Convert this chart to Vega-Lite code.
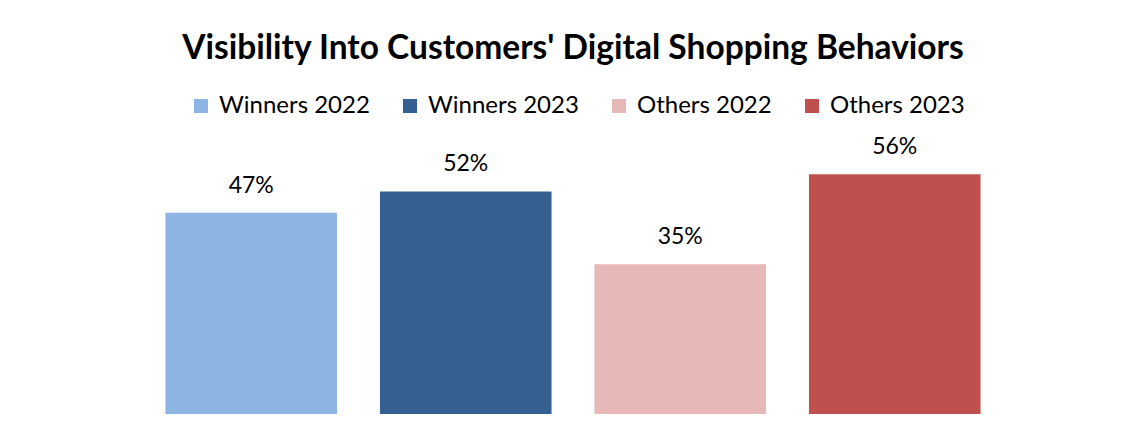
{
  "$schema": "https://vega.github.io/schema/vega-lite/v6.json",
  "autosize": "none",
  "width": 858,
  "height": 274,
  "padding": {"left": 144, "top": 140, "right": 131, "bottom": 26},
  "background": "white",
  "config": {
    "view": {"stroke": null},
    "font": "Lato"
  },
  "title": {
    "text": "Visibility Into Customers' Digital Shopping Behaviors",
    "font": "Lato",
    "fontSize": 33.5,
    "fontWeight": "bold",
    "color": "#000000",
    "anchor": "middle",
    "frame": "group",
    "offset": 28
  },
  "data": {
    "values": [
      {"group": "Winners 2022", "value": 0.47},
      {"group": "Winners 2023", "value": 0.52},
      {"group": "Others 2022", "value": 0.35},
      {"group": "Others 2023", "value": 0.56}
    ]
  },
  "encoding": {
    "x": {
      "field": "group",
      "type": "nominal",
      "sort": null,
      "axis": null,
      "scale": {"paddingInner": 0.2, "paddingOuter": 0.1}
    },
    "y": {
      "field": "value",
      "type": "quantitative",
      "axis": null,
      "scale": {"domain": [0, 0.64], "nice": false}
    }
  },
  "layer": [
    {
      "mark": {"type": "bar"},
      "encoding": {
        "color": {
          "field": "group",
          "type": "nominal",
          "sort": null,
          "scale": {
            "domain": ["Winners 2022", "Winners 2023", "Others 2022", "Others 2023"],
            "range": ["#8EB4E3", "#366092", "#E6B9B8", "#C0504D"]
          },
          "legend": {
            "title": null,
            "orient": "none",
            "direction": "horizontal",
            "legendX": 45,
            "legendY": -46,
            "symbolType": "square",
            "symbolSize": 196,
            "symbolStrokeWidth": 0,
            "labelFont": "Lato",
            "labelFontSize": 24,
            "labelColor": "#000000",
            "labelOffset": 6,
            "columnPadding": 28,
            "labelLimit": 300
          }
        }
      }
    },
    {
      "mark": {"type": "text", "baseline": "bottom", "dy": -15, "font": "Lato", "fontSize": 23, "color": "#000000"},
      "encoding": {
        "text": {"field": "value", "type": "quantitative", "format": ".0%"}
      }
    }
  ]
}
